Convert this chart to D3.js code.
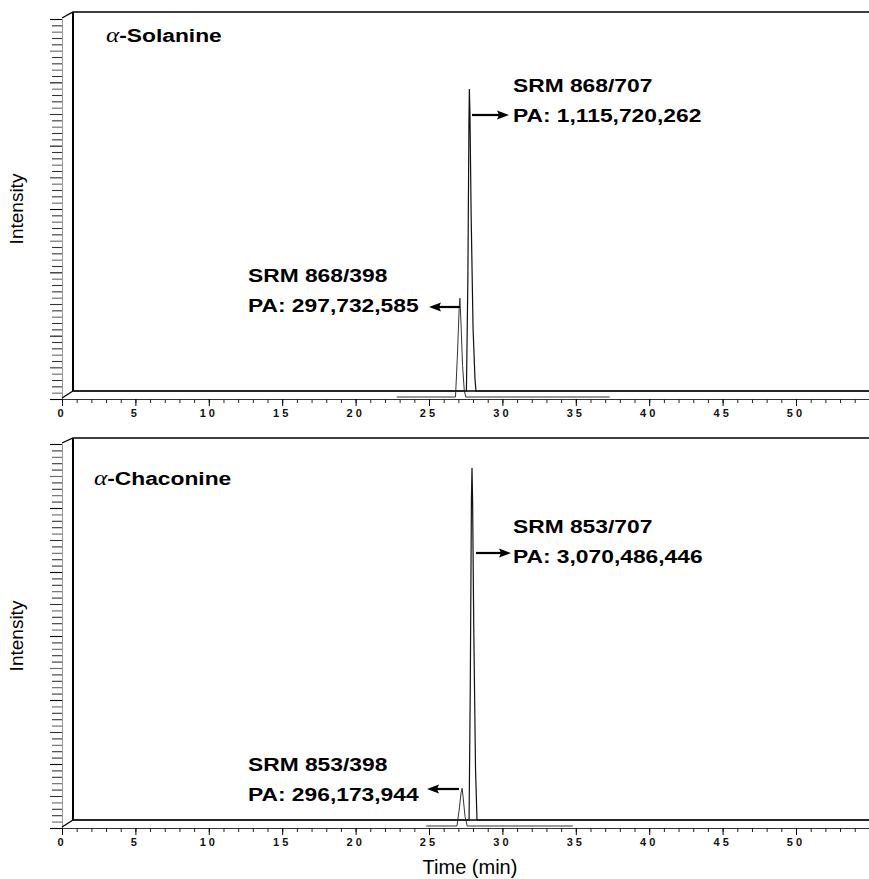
<!DOCTYPE html>
<html>
<head>
<meta charset="utf-8">
<script src="https://cdn.jsdelivr.net/npm/d3@7"></script>
<style>
body { margin: 0; background: #fff; }
svg { display: block; }
text { font-family: "Liberation Sans", Arial, sans-serif; }
</style>
</head>
<body>
<div class="chart"></div>
<script>
// time axis (min) and relative intensity axis
const timeDomain = [0, 55]
const intensityDomain = [0, 60]
const majorTimes = d3.range(0, 51, 5)
const minorTimes = d3.range(0, 56, 1)
const intensityTicks = d3.range(0, 61, 1)

const panelNames = ['Solanine', 'Chaconine']

// [time, intensity]
const solanine707 = [[0, 0], [26.8, 0], [26.9, 18], [26.97, 42], [27.0, 47.7], [27.04, 44], [27.12, 28], [27.25, 10], [27.38, 2], [27.45, 0], [54.5, 0]]
const solanine398 = [[22.6, 0], [26.6, 0], [26.72, 6], [26.85, 14], [26.9, 15.6], [26.97, 12], [27.08, 5], [27.2, 1], [27.3, 0], [37.1, 0]]
const chaconine707 = [[0, 0], [26.98, 0], [27.06, 20], [27.14, 50], [27.18, 55], [27.22, 50], [27.3, 30], [27.42, 8], [27.52, 0], [54.5, 0]]
const chaconine398 = [[24.6, 0], [26.7, 0], [26.85, 2.5], [26.98, 5.2], [27.05, 5.9], [27.12, 4.5], [27.25, 1.5], [27.4, 0], [34.6, 0]]

const srmLabels = [['SRM 868/707', 'PA: 1,115,720,262'], ['SRM 868/398', 'PA: 297,732,585'],
                   ['SRM 853/707', 'PA: 3,070,486,446'], ['SRM 853/398', 'PA: 296,173,944']]

const width = 869
const height = 879
const depth = { front: { dx: 11, dy: -8 }, back: { dx: 3, dy: -2 } }

const panels = [
    { name: panelNames[0], top: 19, axisY: 399, frontTop: 12, titleX: 106, titleY: 42,
      traces: [{ data: solanine398, at: 'back' }, { data: solanine707, at: 'front' }],
      notes: [
        { lines: srmLabels[0], x: 513, y: 92, arrow: [472, 509, 115] },
        { lines: srmLabels[1], x: 248, y: 282, arrow: [460, 429, 307] }
      ] },
    { name: panelNames[1], top: 444, axisY: 828, frontTop: 438, titleX: 94, titleY: 485,
      traces: [{ data: chaconine398, at: 'back' }, { data: chaconine707, at: 'front' }],
      notes: [
        { lines: srmLabels[2], x: 513, y: 533, arrow: [476, 511, 553] },
        { lines: srmLabels[3], x: 248, y: 771, arrow: [459, 427, 789] }
      ] }
]

const svg = d3.select('.chart')
    .append('svg')
    .attr('width', width)
    .attr('height', height)

const x = d3.scaleLinear()
    .domain(timeDomain)
    .range([62, 62 + 55 * 14.68])

panels.forEach(p => {
    const y = d3.scaleLinear()
        .domain(intensityDomain)
        .range([p.axisY, p.top])

    const g = svg.append('g')
    const f = depth.front
    const x0 = x(0)

    // intensity axis at the back, ticks only
    const yAxis = g.append('g')
        .attr('transform', `translate(${x0},0)`)
        .call(d3.axisLeft(y).tickValues(intensityTicks).tickSize(10).tickFormat(''))
    yAxis.select('.domain').attr('stroke', '#999')
    yAxis.selectAll('.tick line')
        .attr('stroke', (d, i) => i % 10 === 0 ? '#000' : (i % 3 === 1 ? '#666' : '#333'))
        .attr('stroke-width', 1.1)
        .attr('x2', (d, i) => i % 5 === 0 ? -12 : -10)

    // time axis
    const minor = g.append('g')
        .attr('transform', `translate(0,${p.axisY})`)
        .call(d3.axisBottom(x).tickValues(minorTimes).tickSize(4).tickFormat(''))
    minor.select('.domain').attr('stroke', '#333')
    minor.selectAll('.tick line').attr('stroke', '#222')

    const major = g.append('g')
        .attr('transform', `translate(0,${p.axisY})`)
        .call(d3.axisBottom(x).tickValues(majorTimes).tickSize(7).tickPadding(3)
            .tickFormat(d => String(d).split('').join(' ')))
    major.select('.domain').remove()
    major.selectAll('.tick line').attr('stroke', '#000')
    major.selectAll('.tick text')
        .attr('dx', -2)
        .style('font-family', '"Liberation Sans", Arial, sans-serif')
        .style('font-size', '11px')
        .style('font-weight', 'bold')
        .attr('fill', '#111')

    // front frame of the 3d box
    const fBottom = p.axisY + f.dy
    g.append('path')
        .attr('d', `M${x0},${p.top - 1}L${x0 + f.dx},${p.frontTop}H${width + 5}`
            + `M${x0 + f.dx},${p.frontTop}V${fBottom}H${width + 5}`
            + `M${x0},${p.axisY - 1}L${x0 + f.dx},${fBottom}`)
        .attr('fill', 'none')
        .attr('stroke', '#000')
        .attr('stroke-width', 1.3)
    g.append('line')
        .attr('x1', x0 + f.dx).attr('x2', x0 + f.dx)
        .attr('y1', p.frontTop).attr('y2', fBottom)
        .attr('stroke', '#000')
        .attr('stroke-width', 2)

    // traces
    p.traces.forEach(t => {
        const o = depth[t.at]
        const line = d3.line()
            .x(d => x(d[0]) + o.dx)
            .y(d => y(d[1]) + o.dy)
        g.append('path')
            .datum(t.data)
            .attr('d', line)
            .attr('fill', 'none')
            .attr('stroke', t.at === 'front' ? '#111' : '#333')
            .attr('stroke-width', t.at === 'front' ? 1.2 : 1)
    })

    // title
    const title = g.append('text')
        .attr('transform', `translate(${p.titleX},${p.titleY}) scale(1.2,1)`)
        .style('font-size', '19px')
        .style('font-weight', 'bold')
    title.append('tspan')
        .text('α')
        .style('font-family', '"Liberation Serif", "Times New Roman", serif')
        .style('font-size', '21px')
        .style('font-style', 'italic')
        .style('font-weight', 'normal')
    title.append('tspan').text('-' + p.name)

    // peak notes with arrows
    p.notes.forEach(n => {
        n.lines.forEach((s, i) => {
            g.append('text')
                .attr('transform', `translate(${n.x},${n.y + i * 30}) scale(1.2,1)`)
                .style('font-size', '19px')
                .style('font-weight', 'bold')
                .text(s)
        })
        const [x1, x2, ay] = n.arrow
        const s = x2 > x1 ? 1 : -1
        g.append('line')
            .attr('x1', x1).attr('x2', x2 - s * 8)
            .attr('y1', ay).attr('y2', ay)
            .attr('stroke', '#000')
            .attr('stroke-width', 2.2)
        g.append('path')
            .attr('d', `M${x2},${ay}L${x2 - s * 12},${ay - 4.5}L${x2 - s * 10},${ay}L${x2 - s * 12},${ay + 4.5}Z`)
            .attr('fill', '#000')
    })

    svg.append('text')
        .attr('transform', `translate(23,${(p.top + p.axisY) / 2}) rotate(-90)`)
        .attr('text-anchor', 'middle')
        .style('font-size', '19px')
        .text('Intensity')
})

svg.append('text')
    .attr('x', 470)
    .attr('y', 874)
    .attr('text-anchor', 'middle')
    .style('font-size', '20px')
    .text('Time (min)')
</script>
</body>
</html>
